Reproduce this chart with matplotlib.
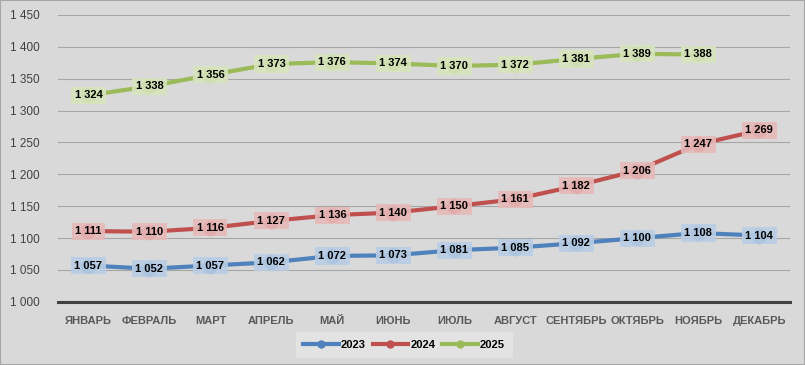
import numpy as np
import matplotlib.pyplot as plt
from matplotlib.patches import Rectangle

months = ['ЯНВАРЬ', 'ФЕВРАЛЬ', 'МАРТ', 'АПРЕЛЬ', 'МАЙ', 'ИЮНЬ', 'ИЮЛЬ',
          'АВГУСТ', 'СЕНТЯБРЬ', 'ОКТЯБРЬ', 'НОЯБРЬ', 'ДЕКАБРЬ']
y2023 = [1057, 1052, 1057, 1062, 1072, 1073, 1081, 1085, 1092, 1100, 1108, 1104]
y2024 = [1111, 1110, 1116, 1127, 1136, 1140, 1150, 1161, 1182, 1206, 1247, 1269]
y2025 = [1324, 1338, 1356, 1373, 1376, 1374, 1370, 1372, 1381, 1389, 1388]
yticks = [1000, 1050, 1100, 1150, 1200, 1250, 1300, 1350, 1400, 1450]

series = [
    ('2023', y2023, '#4f81bd', '#b9cde5'),
    ('2024', y2024, '#c0504d', '#e6b9b8'),
    ('2025', y2025, '#9bbb59', '#d7e4bd'),
]

def fmt(v):
    return '{:,}'.format(v).replace(',', ' ')

plt.rcParams['font.family'] = ['Liberation Sans', 'DejaVu Sans']

fig = plt.figure(figsize=(8.05, 3.65), dpi=100, facecolor='#d9d9d9')
fig.patches.append(Rectangle((0, 0), 1, 1, transform=fig.transFigure,
                             fill=False, edgecolor='#a6a6a6', linewidth=1.5))
ax = fig.add_axes([0.072, 0.173, 0.909, 0.786])
ax.set_facecolor('#d9d9d9')

x = np.arange(len(months))
for name, vals, col, bg in series:
    xs = x[:len(vals)]
    ax.plot(xs, vals, color=col, linewidth=3, marker='o', markersize=10,
            label=name, zorder=3)
    for xi, v in zip(xs, vals):
        ax.text(xi, v, fmt(v), ha='center', va='center', fontsize=8,
                fontweight='bold', color='black', zorder=4,
                bbox=dict(boxstyle='square,pad=0.32', facecolor=bg,
                          edgecolor='none', alpha=0.9))

ax.set_xlim(-0.5, len(months) - 0.5)
ax.set_ylim(1000, 1450)
ax.set_yticks(yticks)
ax.set_yticklabels([fmt(v) for v in yticks], fontsize=8.5, color='#404040')
ax.set_xticks(x)
ax.set_xticklabels(months, fontsize=8, fontweight='bold', color='#595959')
ax.tick_params(length=0, pad=10)
ax.tick_params(axis='y', pad=13)
ax.grid(axis='y', color='#a6a6a6', linewidth=0.8)
ax.set_axisbelow(True)
for s in ['top', 'right', 'left']:
    ax.spines[s].set_visible(False)
ax.spines['bottom'].set_color('#404040')
ax.spines['bottom'].set_linewidth(2.2)

leg = fig.legend(loc='center', bbox_to_anchor=(0.502, 0.055), ncol=3,
                 frameon=True, handlelength=3.2,
                 columnspacing=0.6, handletextpad=0.2, borderpad=0.4,
                 prop={'weight': 'bold', 'size': 8})
leg.get_frame().set_facecolor('#e6e6e6')
leg.get_frame().set_edgecolor('none')
leg.get_frame().set_boxstyle('square')
for h in leg.legend_handles:
    h.set_markersize(5)

fig.savefig('out.png', dpi=100, facecolor=fig.get_facecolor())
